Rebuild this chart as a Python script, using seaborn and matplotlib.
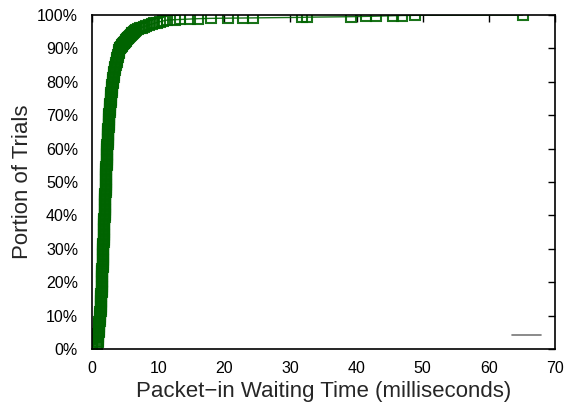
import matplotlib
matplotlib.use("Agg")
import matplotlib.pyplot as plt
import seaborn as sns
import pandas as pd
from matplotlib.ticker import PercentFormatter

# CDF of packet-in waiting time
# body: 0% .. 90%
body_pct = [
    0.0, 0.5, 1.0, 1.5, 2.0, 2.5, 3.0, 3.5, 4.0, 4.5, 5.0, 5.5, 6.0, 6.5, 7.0, 7.5, 8.0, 8.5, 9.0, 9.5,
    10.0, 10.5, 11.0, 11.5, 12.0, 12.5, 13.0, 13.5, 14.0, 14.5, 15.0, 15.5, 16.0, 16.5, 17.0, 17.5, 18.0, 18.5, 19.0, 19.5,
    20.0, 20.5, 21.0, 21.5, 22.0, 22.5, 23.0, 23.5, 24.0, 24.5, 25.0, 25.5, 26.0, 26.5, 27.0, 27.5, 28.0, 28.5, 29.0, 29.5,
    30.0, 30.5, 31.0, 31.5, 32.0, 32.5, 33.0, 33.5, 34.0, 34.5, 35.0, 35.5, 36.0, 36.5, 37.0, 37.5, 38.0, 38.5, 39.0, 39.5,
    40.0, 40.5, 41.0, 41.5, 42.0, 42.5, 43.0, 43.5, 44.0, 44.5, 45.0, 45.5, 46.0, 46.5, 47.0, 47.5, 48.0, 48.5, 49.0, 49.5,
    50.0, 50.5, 51.0, 51.5, 52.0, 52.5, 53.0, 53.5, 54.0, 54.5, 55.0, 55.5, 56.0, 56.5, 57.0, 57.5, 58.0, 58.5, 59.0, 59.5,
    60.0, 60.5, 61.0, 61.5, 62.0, 62.5, 63.0, 63.5, 64.0, 64.5, 65.0, 65.5, 66.0, 66.5, 67.0, 67.5, 68.0, 68.5, 69.0, 69.5,
    70.0, 70.5, 71.0, 71.5, 72.0, 72.5, 73.0, 73.5, 74.0, 74.5, 75.0, 75.5, 76.0, 76.5, 77.0, 77.5, 78.0, 78.5, 79.0, 79.5,
    80.0, 80.5, 81.0, 81.5, 82.0, 82.5, 83.0, 83.5, 84.0, 84.5, 85.0, 85.5, 86.0, 86.5, 87.0, 87.5, 88.0, 88.5, 89.0, 89.5,
]
body_wait = [
    0.00, 0.78, 0.80, 0.83, 0.85, 0.88, 0.90, 0.93, 0.95, 0.98, 1.00, 1.02, 1.04, 1.06, 1.08, 1.10, 1.12, 1.15, 1.18, 1.21,
    1.25, 1.27, 1.28, 1.30, 1.31, 1.33, 1.34, 1.36, 1.37, 1.39, 1.40, 1.41, 1.42, 1.43, 1.44, 1.45, 1.46, 1.47, 1.48, 1.49,
    1.50, 1.51, 1.52, 1.53, 1.54, 1.55, 1.56, 1.57, 1.58, 1.59, 1.60, 1.61, 1.62, 1.63, 1.64, 1.65, 1.66, 1.67, 1.68, 1.69,
    1.70, 1.71, 1.72, 1.73, 1.74, 1.75, 1.76, 1.77, 1.78, 1.79, 1.80, 1.81, 1.82, 1.83, 1.84, 1.85, 1.86, 1.87, 1.88, 1.89,
    1.90, 1.91, 1.92, 1.93, 1.94, 1.95, 1.96, 1.97, 1.98, 1.99, 2.00, 2.01, 2.02, 2.03, 2.04, 2.05, 2.06, 2.07, 2.08, 2.09,
    2.10, 2.11, 2.12, 2.13, 2.14, 2.15, 2.16, 2.17, 2.18, 2.19, 2.20, 2.21, 2.22, 2.23, 2.24, 2.25, 2.26, 2.27, 2.28, 2.29,
    2.30, 2.315, 2.33, 2.345, 2.36, 2.375, 2.39, 2.405, 2.42, 2.435, 2.45, 2.465, 2.48, 2.495, 2.51, 2.525, 2.54, 2.555, 2.57, 2.585,
    2.60, 2.625, 2.65, 2.675, 2.70, 2.725, 2.75, 2.775, 2.80, 2.825, 2.85, 2.875, 2.90, 2.93, 2.96, 2.99, 3.02, 3.05, 3.08, 3.11,
    3.15, 3.19, 3.23, 3.27, 3.31, 3.35, 3.40, 3.45, 3.50, 3.55, 3.60, 3.65, 3.71, 3.77, 3.83, 3.89, 3.96, 4.02, 4.08, 4.14,
]
# knee: 90% .. 98.5%
knee_pct = [
    90.0, 90.25, 90.5, 90.75, 91.0, 91.25, 91.5, 91.75, 92.0, 92.25, 92.5, 92.75,
    93.0, 93.25, 93.5, 93.75, 94.0, 94.25, 94.5, 94.75, 95.0, 95.25, 95.5, 95.75,
    96.0, 96.25, 96.5, 96.75, 97.0, 97.25, 97.5, 97.75, 98.0, 98.25, 98.5,
]
knee_wait = [
    4.20, 4.30, 4.40, 4.50, 4.60, 4.70, 4.80, 4.90, 5.00, 5.10, 5.20, 5.30,
    5.40, 5.50, 5.62, 5.75, 5.88, 6.00, 6.10, 6.20, 6.30, 6.50, 6.70, 6.95,
    7.20, 7.50, 7.80, 8.20, 8.60, 9.00, 9.40, 9.80, 10.30, 10.80, 11.40,
]
# sparse tail of slow trials
tail_pct = [98.6, 98.7, 98.8, 98.9, 99.0, 99.05, 99.1, 99.15,
            99.3, 99.35, 99.5, 99.6, 99.65, 99.8, 99.85, 99.9, 100.0]
tail_wait = [12.5, 13.3, 14.8, 16.0, 18.0, 20.5, 22.8, 24.3,
             31.8, 32.5, 39.1, 41.5, 42.9, 45.5, 46.8, 48.8, 65.1]
x_ticks = [0, 10, 20, 30, 40, 50, 60, 70]
y_ticks = [0, 10, 20, 30, 40, 50, 60, 70, 80, 90, 100]

df = pd.DataFrame({"wait": body_wait + knee_wait + tail_wait,
                   "portion": body_pct + knee_pct + tail_pct})

sns.set_style("white")
plt.rcParams["font.family"] = ["Liberation Sans", "DejaVu Sans"]

fig = plt.figure(figsize=(5.69, 4.09), dpi=100)
ax = fig.add_axes([0.1617, 0.1467, 0.8137, 0.8166])

sns.lineplot(data=df, x="wait", y="portion", ax=ax, sort=False, estimator=None,
             color="#006400", linewidth=1.0, marker="s", markersize=7,
             markerfacecolor="none", markeredgecolor="#006400",
             markeredgewidth=1.5, alpha=0.9)

# empty key entry like the gnuplot original
ax.plot([], [], color="#777777", linewidth=1.2, label=" ")
ax.legend(loc="lower right", bbox_to_anchor=(1.0, -0.012), frameon=False,
          handlelength=2.1, borderaxespad=0.3, handletextpad=0.0, fontsize=10)

ax.set_xlim(0, 70)
ax.set_ylim(0, 100)
ax.set_xticks(x_ticks)
ax.set_yticks(y_ticks)
ax.yaxis.set_major_formatter(PercentFormatter(100, decimals=0))
ax.tick_params(direction="in", length=5, width=1, top=True, right=True,
               labelsize=11.5, colors="black")
ax.tick_params(axis="x", pad=9)
ax.tick_params(axis="y", pad=10)
for s in ax.spines.values():
    s.set_color("black")
    s.set_linewidth(1.2)

ax.set_xlabel("Packet\u2212in Waiting Time (milliseconds)", fontsize=16, labelpad=3)
ax.set_ylabel("Portion of Trials", fontsize=16, labelpad=3)

fig.savefig("out.png", dpi=100)
